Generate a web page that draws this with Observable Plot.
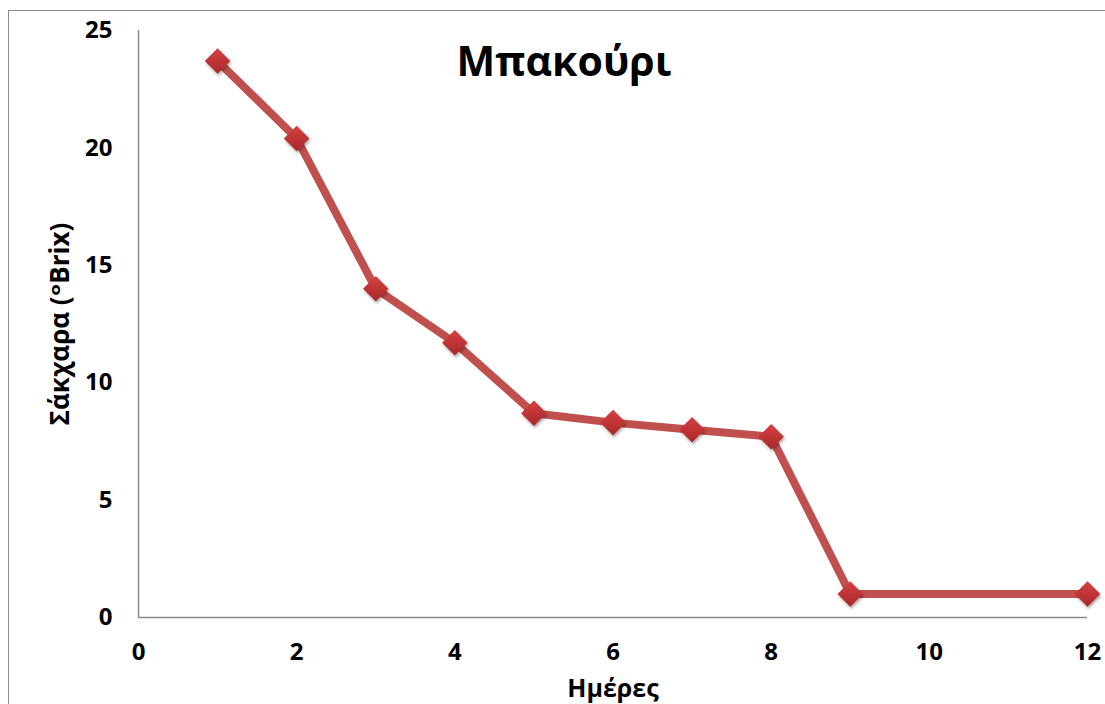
<!DOCTYPE html>
<html>
<head>
<meta charset="utf-8">
<script src="https://cdn.jsdelivr.net/npm/d3@7"></script>
<script src="https://cdn.jsdelivr.net/npm/@observablehq/plot@0.6"></script>
<style>
  html, body { margin: 0; padding: 0; background: #fff; overflow: hidden; }
  #wrap { position: relative; width: 1105px; height: 704px; }
  #frame { position: absolute; left: 8px; top: 10px; width: 1120px; height: 720px; border: 1.5px solid #8c8c8c; box-sizing: border-box; pointer-events: none; }
  svg { font-family: "Open Sans", "DejaVu Sans", sans-serif; }
</style>
</head>
<body>
<div id="wrap"><div id="frame"></div></div>
<script>
const days = [1, 2, 3, 4, 5, 6, 7, 8, 9, 12];
const sugar = [23.7, 20.4, 14.0, 11.7, 8.7, 8.3, 8.0, 7.7, 1.0, 1.0];
const xTicks = [0, 2, 4, 6, 8, 10, 12];
const yTicks = [0, 5, 10, 15, 20, 25];
const title = "Μπακούρι";
const xLabel = "Ημέρες";
const yLabel = "Σάκχαρα (ᵒBrix)";

const data = days.map((d, i) => ({day: d, sugar: sugar[i]}));

const chart = Plot.plot({
  width: 1105,
  height: 704,
  marginLeft: 138,
  marginRight: 18,
  marginTop: 30,
  marginBottom: 87,
  style: {background: "transparent", fontFamily: "'Open Sans', 'DejaVu Sans', sans-serif"},
  x: {domain: [0, 12], ticks: xTicks, label: null},
  y: {domain: [0, 25], ticks: yTicks, label: null},
  marks: [
    Plot.axisX({ticks: xTicks, tickSize: 0, tickPadding: 25, fontSize: 24, fontWeight: "bold", fill: "#000", label: null}),
    Plot.axisY({ticks: yTicks, tickSize: 0, tickPadding: 26, fontSize: 24, fontWeight: "bold", fill: "#000", label: null}),
    Plot.ruleY([0], {stroke: "#8a8a8a", strokeWidth: 1.5}),
    Plot.ruleX([0], {stroke: "#8a8a8a", strokeWidth: 1.5}),
    Plot.line(data, {x: "day", y: "sugar", stroke: "#c0504d", strokeWidth: 8, strokeLinejoin: "round"}),
    Plot.dot(data, {x: "day", y: "sugar", symbol: "diamond2", r: 11.5, fill: "url(#mgrad)", stroke: "none"}),
    Plot.text([title], {frameAnchor: "top", lineAnchor: "middle", dx: -49, dy: 32, fontSize: 41, fontWeight: "bold", fill: "#000"}),
    Plot.text([xLabel], {frameAnchor: "bottom", lineAnchor: "middle", dx: 0, dy: 71, fontSize: 25, fontWeight: "bold", fill: "#000"}),
    Plot.text([yLabel], {frameAnchor: "left", textAnchor: "middle", lineAnchor: "middle", dx: -78, rotate: -90, fontSize: 26, fontWeight: "bold", fill: "#000"})
  ]
});

const svgNS = "http://www.w3.org/2000/svg";
const defs = document.createElementNS(svgNS, "defs");
defs.innerHTML = `
  <linearGradient id="mgrad" x1="0" y1="0" x2="0" y2="1">
    <stop offset="0" stop-color="#d64040"/>
    <stop offset="1" stop-color="#a8282a"/>
  </linearGradient>
  <filter id="mshadow" x="-50%" y="-50%" width="200%" height="200%">
    <feDropShadow dx="1" dy="2" stdDeviation="1.5" flood-color="#000" flood-opacity="0.35"/>
  </filter>`;
chart.insertBefore(defs, chart.firstChild);
chart.querySelectorAll("g[aria-label='dot'] path").forEach(p => p.setAttribute("filter", "url(#mshadow)"));
document.getElementById("wrap").prepend(chart);
</script>
</body>
</html>
